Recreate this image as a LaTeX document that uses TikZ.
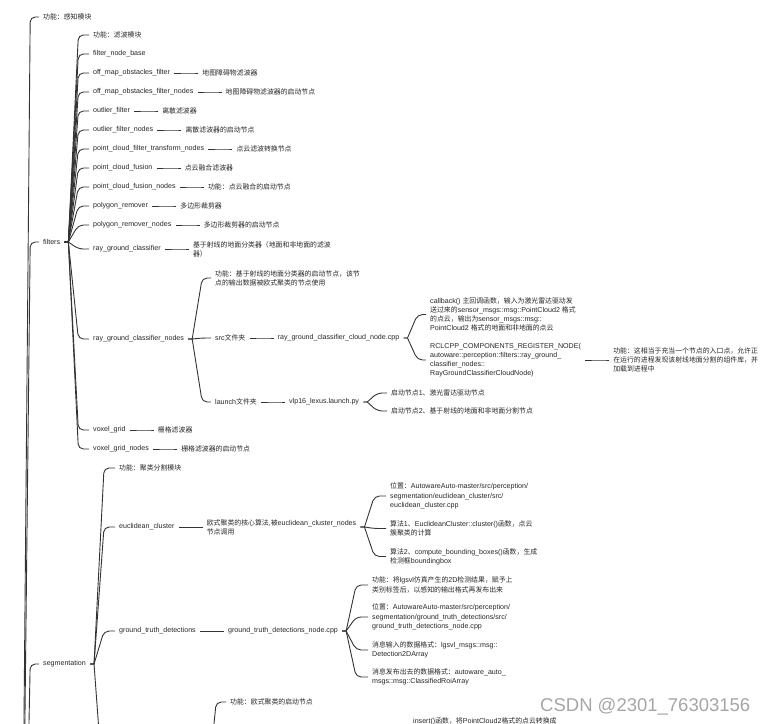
\documentclass[tikz,border=0pt]{standalone}
\usepackage{fontspec}
\setmainfont{Liberation Sans}
\newfontfamily\latfont{Liberation Sans}
\newfontfamily\cjkfont[Scale=0.97]{Noto Sans CJK SC}
\usetikzlibrary{positioning,calc}

% switch between latin and cjk runs
\newXeTeXintercharclass\cjkclass
\newcount\cjkcode
\cjkcode="3000
\loop
  \XeTeXcharclass\cjkcode=\cjkclass
  \advance\cjkcode by 1
\ifnum\cjkcode<"A000 \repeat
\cjkcode="FF00
\loop
  \XeTeXcharclass\cjkcode=\cjkclass
  \advance\cjkcode by 1
\ifnum\cjkcode<"FFF0 \repeat
\XeTeXinterchartoks 0 \cjkclass = {\cjkfont}
\XeTeXinterchartoks 4095 \cjkclass = {\cjkfont}
\XeTeXinterchartoks \cjkclass 0 = {\latfont}
\XeTeXinterchartoks 4095 0 = {\latfont}
\XeTeXinterchartoks \cjkclass 4095 = {\latfont}

\newcommand\mapfont{\XeTeXinterchartokenstate=1 \fontsize{7.1}{9.2}\selectfont\latfont}

\tikzset{
  topic/.style={anchor=west, inner xsep=1pt, inner ysep=1.5pt, align=left,
    font=\mapfont, text=black!85},
  link/.style={draw=black!80, line width=0.9pt, rounded corners=5pt},
  hub/.style={inner sep=0pt, minimum size=0pt},
  stamp/.style={anchor=base west, inner sep=0pt, text=black!35,
    font=\latfont\fontsize{18.5}{20}\selectfont}
}

% parent -> child connector
\newcommand\branch[2]{%
  \draw[link] let \p1=(#1.east), \p2=(#2.west) in
    (\x1+3pt,\y1) -- (\x1+7pt,\y1) (\x1+7pt,\y1) -- (\x1+17pt,\y2) -- (\x2-3pt,\y2);}

\begin{document}
\begin{tikzpicture}[x=1pt, y=-1pt]
\useasboundingbox (0,0) rectangle (767,723);
\clip (0,0) rectangle (767,723);

\node[hub] (root) at (13,1150) {};
\node[topic] (perc) at (42,17) {功能：感知模块};
\node[topic] (filters) at (42,242) {filters};
\node[topic] (seg) at (42,664) {segmentation};

% filters
\node[topic] (filtfunc) at (92,35) {功能：滤波模块};
\node[topic] (fnbase) at (92,54) {filter\_node\_base};
\node[topic] (offmap) at (92,73) {off\_map\_obstacles\_filter};
\node[topic, right=30pt of offmap] (offmapd) {地图障碍物滤波器};
\node[topic] (offmapn) at (92,92) {off\_map\_obstacles\_filter\_nodes};
\node[topic, right=30pt of offmapn] (offmapnd) {地图障碍物滤波器的启动节点};
\node[topic] (outlier) at (92,111) {outlier\_filter};
\node[topic, right=30pt of outlier] (outlierd) {离散滤波器};
\node[topic] (outliern) at (92,130) {outlier\_filter\_nodes};
\node[topic, right=30pt of outliern] (outliernd) {离散滤波器的启动节点};
\node[topic] (pctrans) at (92,149) {point\_cloud\_filter\_transform\_nodes};
\node[topic, right=30pt of pctrans] (pctransd) {点云滤波转换节点};
\node[topic] (pcfus) at (92,168) {point\_cloud\_fusion};
\node[topic, right=30pt of pcfus] (pcfusd) {点云融合滤波器};
\node[topic] (pcfusn) at (92,187) {point\_cloud\_fusion\_nodes};
\node[topic, right=30pt of pcfusn] (pcfusnd) {功能：点云融合的启动节点};
\node[topic] (poly) at (92,206) {polygon\_remover};
\node[topic, right=30pt of poly] (polyd) {多边形裁剪器};
\node[topic] (polyn) at (92,225) {polygon\_remover\_nodes};
\node[topic, right=30pt of polyn] (polynd) {多边形裁剪器的启动节点};
\node[topic] (rgc) at (92,249) {ray\_ground\_classifier};
\node[topic, right=30pt of rgc] (rgcd) {基于射线的地面分类器（地面和非地面的滤波\\器）};
\node[topic] (rgcn) at (92,339) {ray\_ground\_classifier\_nodes};
\node[topic] (voxel) at (92,430) {voxel\_grid};
\node[topic, right=30pt of voxel] (voxeld) {栅格滤波器};
\node[topic] (voxeln) at (92,449) {voxel\_grid\_nodes};
\node[topic, right=30pt of voxeln] (voxelnd) {栅格滤波器的启动节点};

% ray_ground_classifier_nodes
\node[topic] (rgcfunc) at (214,278) {功能：基于射线的地面分类器的启动节点，该节\\点的输出数据被欧式聚类的节点使用};
\node[topic] (rgcsrc) at (214,338) {src文件夹};
\node[topic, right=30pt of rgcsrc] (rgccpp) {ray\_ground\_classifier\_cloud\_node.cpp};
\node[topic] (callback) at (429,314.5) {callback() 主回调函数，输入为激光雷达驱动发\\送过来的sensor\_msgs::msg::PointCloud2 格式\\的点云，输出为sensor\_msgs::msg::\\PointCloud2 格式的地面和非地面的点云};
\node[topic] (regnode) at (429,360) {RCLCPP\_COMPONENTS\_REGISTER\_NODE(\\autoware::perception::filters::ray\_ground\_\\classifier\_nodes::\\RayGroundClassifierCloudNode)};
\node[topic, right=30pt of regnode] (regfunc) {功能：这相当于充当一个节点的入口点，允许正\\在运行的进程发现该射线地面分割的组件库，并\\加载到进程中};
\node[topic] (rgclaunch) at (214,402) {launch文件夹};
\node[topic, right=30pt of rgclaunch] (vlp) {vlp16\_lexus.launch.py};
\node[topic] (start1) at (390,393) {启动节点1、激光雷达驱动节点};
\node[topic] (start2) at (390,411) {启动节点2、基于射线的地面和非地面分割节点};

% segmentation
\node[topic] (segfunc) at (118,468) {功能：聚类分割模块};
\node[topic] (euc) at (118,527) {euclidean\_cluster};
\node[topic, right=30pt of euc] (euccore) {欧式聚类的核心算法,被euclidean\_cluster\_nodes\\节点调用};
\node[topic] (eucpos) at (389,496) {位置：AutowareAuto-master/src/perception/\\segmentation/euclidean\_cluster/src/\\euclidean\_cluster.cpp};
\node[topic] (alg1) at (389,528.5) {算法1、EuclideanCluster::cluster()函数，点云\\簇聚类的计算};
\node[topic] (alg2) at (389,556.5) {算法2、compute\_bounding\_boxes()函数，生成\\检测框boundingbox};
\node[topic] (gtd) at (118,631) {ground\_truth\_detections};
\node[topic, right=30pt of gtd] (gtdcpp) {ground\_truth\_detections\_node.cpp};
\node[topic] (gtdfunc) at (371,585) {功能：将lgsvl仿真产生的2D检测结果，赋予上\\类别标签后，以感知的输出格式再发布出来};
\node[topic] (gtdpos) at (371,617) {位置：AutowareAuto-master/src/perception/\\segmentation/ground\_truth\_detections/src/\\ground\_truth\_detections\_node.cpp};
\node[topic] (gtdin) at (371,650) {消息输入的数据格式：lgsvl\_msgs::msg::\\Detection2DArray};
\node[topic] (gtdout) at (371,677) {消息发布出去的数据格式：autoware\_auto\_\\msgs::msg::ClassifiedRoiArray};
\node[hub] (ecnodes) at (199,800) {};
\node[topic] (ecfunc) at (229,702) {功能：欧式聚类的启动节点};
\node[topic] (insert) at (412,721) {insert()函数，将PointCloud2格式的点云转换成};

\node[stamp] (csdn) at (540,711) {CSDN @2301\_76303156};

% connectors
\foreach \kid in {perc,filters,seg} \branch{root}{\kid};
\foreach \kid in {filtfunc,fnbase,offmap,offmapn,outlier,outliern,pctrans,pcfus,pcfusn,poly,polyn,rgc,rgcn,voxel,voxeln}
  \branch{filters}{\kid};
\foreach \kid in {rgcfunc,rgcsrc,rgclaunch} \branch{rgcn}{\kid};
\foreach \kid in {callback,regnode} \branch{rgccpp}{\kid};
\foreach \kid in {start1,start2} \branch{vlp}{\kid};
\foreach \kid in {segfunc,euc,gtd,ecnodes} \branch{seg}{\kid};
\foreach \kid in {eucpos,alg1,alg2} \branch{euccore}{\kid};
\foreach \kid in {gtdfunc,gtdpos,gtdin,gtdout} \branch{gtdcpp}{\kid};
\foreach \a/\b in {offmap/offmapd,offmapn/offmapnd,outlier/outlierd,outliern/outliernd,
  pctrans/pctransd,pcfus/pcfusd,pcfusn/pcfusnd,poly/polyd,polyn/polynd,rgc/rgcd,
  voxel/voxeld,voxeln/voxelnd,rgcsrc/rgccpp,regnode/regfunc,rgclaunch/vlp,
  euc/euccore,gtd/gtdcpp,ecnodes/ecfunc}
  \branch{\a}{\b};
\end{tikzpicture}
\end{document}
